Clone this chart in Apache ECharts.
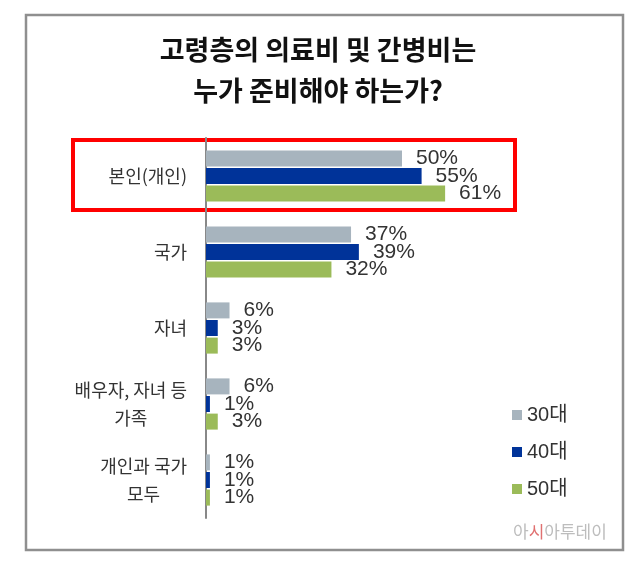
<!DOCTYPE html>
<html>
<head>
<meta charset="utf-8">
<script src="https://cdn.jsdelivr.net/npm/echarts@6/dist/echarts.min.js"></script>
<style>
  html, body { margin: 0; padding: 0; background: #fff; }
  #chart { width: 636px; height: 562px; }
</style>
</head>
<body>
<div id="chart"></div>
<script>
// 응답 항목 (위에서 아래 순서)
var categories = ["본인(개인)", "국가", "자녀", "배우자, 자녀 등\n가족", "개인과 국가\n모두"];
var seriesNames = ["30대", "40대", "50대"];
var age30 = [50, 37, 6, 6, 1];
var age40 = [55, 39, 3, 1, 1];
var age50 = [61, 32, 3, 3, 1];
var colors = ["#A7B4BE", "#003399", "#9BBB59"];

var font = "'Noto Sans CJK KR', 'Noto Sans', sans-serif";
var numFont = "Arial, 'Liberation Sans', 'Noto Sans CJK KR', sans-serif";

function makeSeries(name, data) {
  return {
    name: name,
    type: "bar",
    data: data,
    barWidth: 16,
    barGap: "10%",
    label: {
      show: true,
      position: "right",
      distance: 14,
      formatter: "{c}%",
      color: "#333",
      fontSize: 21,
      fontFamily: numFont
    }
  };
}

var chart = echarts.init(document.getElementById("chart"));
chart.setOption({
  animation: false,
  color: colors,
  title: {
    text: "고령층의 의료비 및 간병비는\n누가 준비해야 하는가?",
    left: "center",
    top: 24,
    textStyle: {
      fontFamily: font,
      fontSize: 27,
      fontWeight: "bold",
      color: "#111",
      lineHeight: 41
    }
  },
  legend: {
    orient: "vertical",
    left: 507,
    top: 400,
    itemWidth: 10,
    itemHeight: 10,
    itemGap: 17,
    icon: "rect",
    data: seriesNames,
    textStyle: {
      fontFamily: numFont,
      fontSize: 20,
      color: "#333"
    }
  },
  grid: {
    left: 206,
    top: 138,
    width: 392,
    height: 380
  },
  xAxis: {
    type: "value",
    min: 0,
    max: 100,
    show: false
  },
  yAxis: {
    type: "category",
    inverse: true,
    data: categories,
    axisLine: { lineStyle: { color: "#888", width: 2 } },
    axisTick: { length: 6, lineStyle: { color: "#888", width: 2 } },
    axisLabel: {
      margin: 19,
      fontFamily: font,
      fontSize: 18,
      color: "#333",
      lineHeight: 28,
      formatter: function (v) {
        return v.split("\n").map(function (s) { return "{c|" + s + "}"; }).join("\n");
      },
      rich: {
        c: { align: "center", fontFamily: font, fontSize: 18, color: "#333", lineHeight: 28 }
      }
    }
  },
  series: [
    makeSeries(seriesNames[0], age30),
    makeSeries(seriesNames[1], age40),
    makeSeries(seriesNames[2], age50)
  ],
  graphic: [
    {
      type: "rect",
      shape: { x: 26, y: 15, width: 597, height: 535 },
      style: { fill: null, stroke: "#8f8f8f", lineWidth: 2.5 },
      silent: true
    },
    {
      type: "rect",
      shape: { x: 73, y: 140, width: 442, height: 70 },
      style: { fill: null, stroke: "#ff0000", lineWidth: 4 },
      silent: true
    },
    {
      type: "text",
      left: 513,
      top: 523,
      silent: true,
      style: {
        text: "{g|아}{r|시}{g|아투데이}",
        rich: {
          g: { fontFamily: font, fontSize: 17, fill: "#bdbdbd" },
          r: { fontFamily: font, fontSize: 17, fill: "#e07070" }
        }
      }
    }
  ]
});
</script>
</body>
</html>
